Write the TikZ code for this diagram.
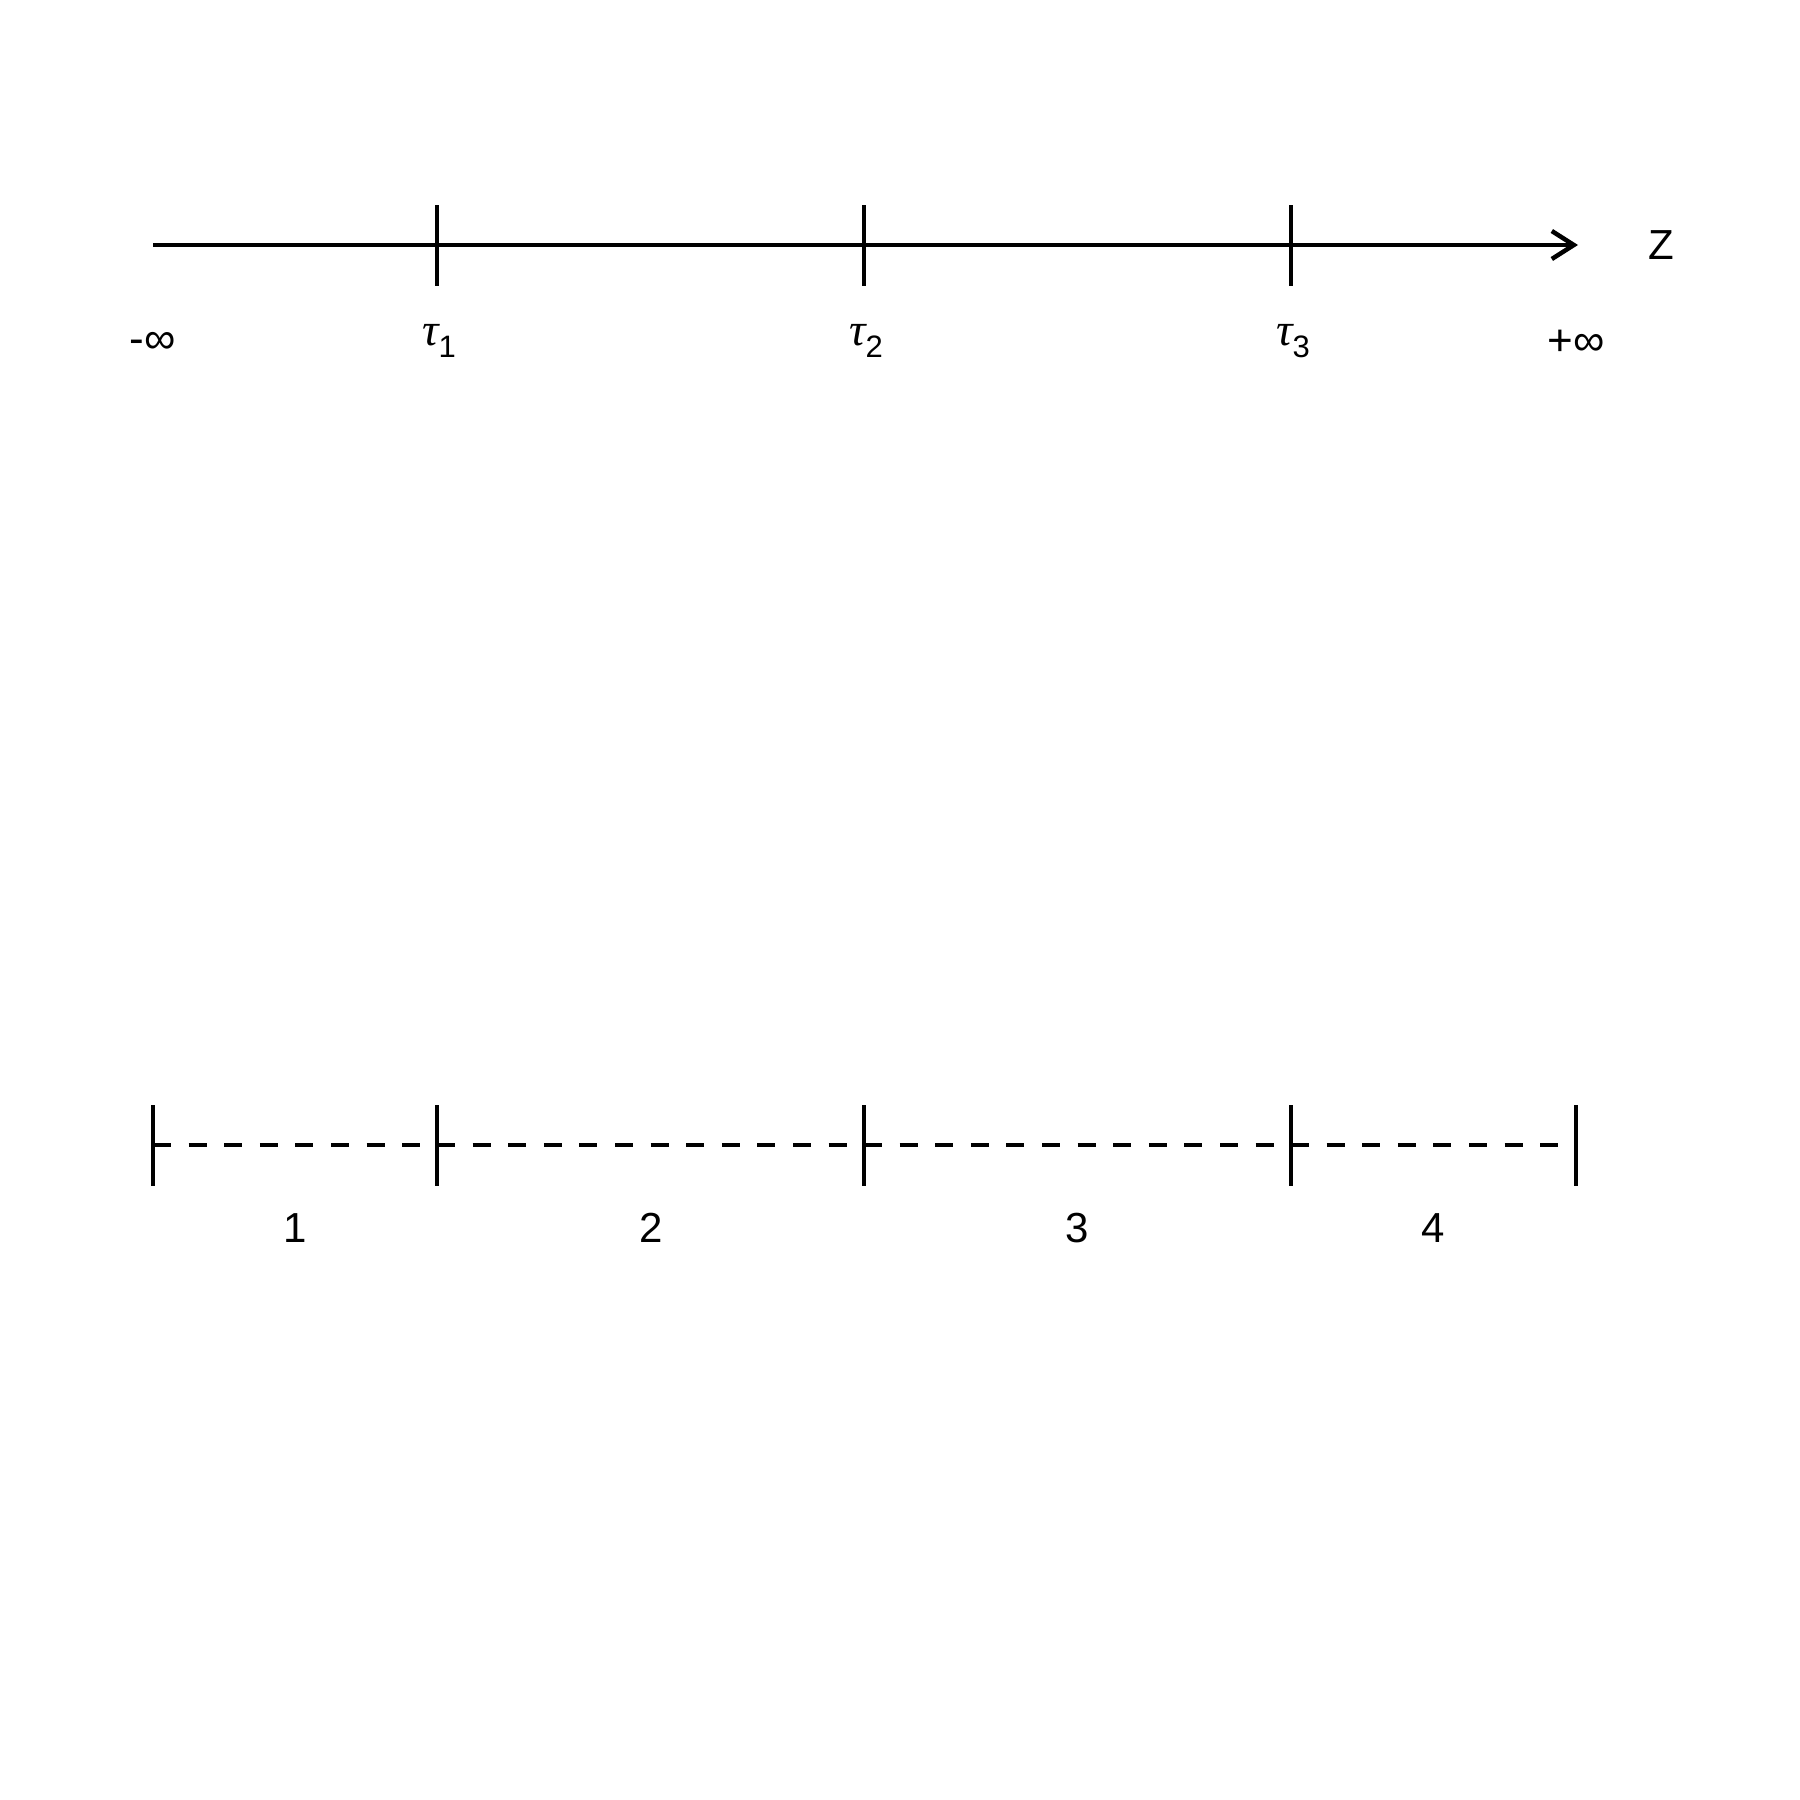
\documentclass[tikz,border=0pt]{standalone}
\usepackage{fontspec}
\setmainfont{Liberation Sans}
\newfontfamily\taufont{Liberation Serif}
\usetikzlibrary{arrows.meta}
\tikzset{
  axisline/.style={line width=4.5pt},
  tickline/.style={line width=4.5pt},
  dashline/.style={line width=4.5pt, dash pattern=on 18pt off 17.6pt},
  lbl/.style={font=\fontsize{42}{48}\selectfont, inner sep=0pt},
  inflbl/.style={font=\fontsize{44}{50}\selectfont, inner sep=0pt},
  taulbl/.style={font=\fontsize{46}{50}\selectfont, inner sep=0pt}
}
\newcommand{\taulab}[1]{{\taufont\itshape τ}\raisebox{-0.26em}{\fontsize{31}{34}\selectfont #1}}
\begin{document}
\begin{tikzpicture}[x=1pt,y=-1pt]
\useasboundingbox (0,0) rectangle (1800,1800);
% top axis
\coordinate (t0) at (153,245);
\coordinate (t1) at (437,245);
\coordinate (t2) at (864,245);
\coordinate (t3) at (1291,245);
\coordinate (tend) at (1578,245);
\draw[axisline, -{Straight Barb[length=22pt,width=28pt,line width=4.5pt]}] (t0) -- (tend);
\foreach \n in {t1,t2,t3}{
  \draw[tickline] ([yshift=40pt]\n) -- ([yshift=-41pt]\n);
}
\node[lbl] (z) at (1661,245) {Z};
\node[inflbl] (minf) at (153,343) {-∞};
\node[taulbl] (l1) at (439,341) {\taulab{1}};
\node[taulbl] (l2) at (866,341) {\taulab{2}};
\node[taulbl] (l3) at (1293,341) {\taulab{3}};
\node[inflbl] (pinf) at (1576,343) {+∞};
% bottom intervals
\coordinate (b0) at (153,1145);
\coordinate (b1) at (437,1145);
\coordinate (b2) at (864,1145);
\coordinate (b3) at (1291,1145);
\coordinate (b4) at (1576,1145);
\draw[dashline] (b0) -- (b1);
\draw[dashline] (b1) -- (b2);
\draw[dashline] (b2) -- (b3);
\draw[dashline] (b3) -- (b4);
\foreach \n in {b0,b1,b2,b3,b4}{
  \draw[tickline] ([yshift=40pt]\n) -- ([yshift=-41pt]\n);
}
\node[lbl] (n1) at (295,1228) {1};
\node[lbl] (n2) at (651,1228) {2};
\node[lbl] (n3) at (1077,1228) {3};
\node[lbl] (n4) at (1433,1228) {4};
\end{tikzpicture}
\end{document}
